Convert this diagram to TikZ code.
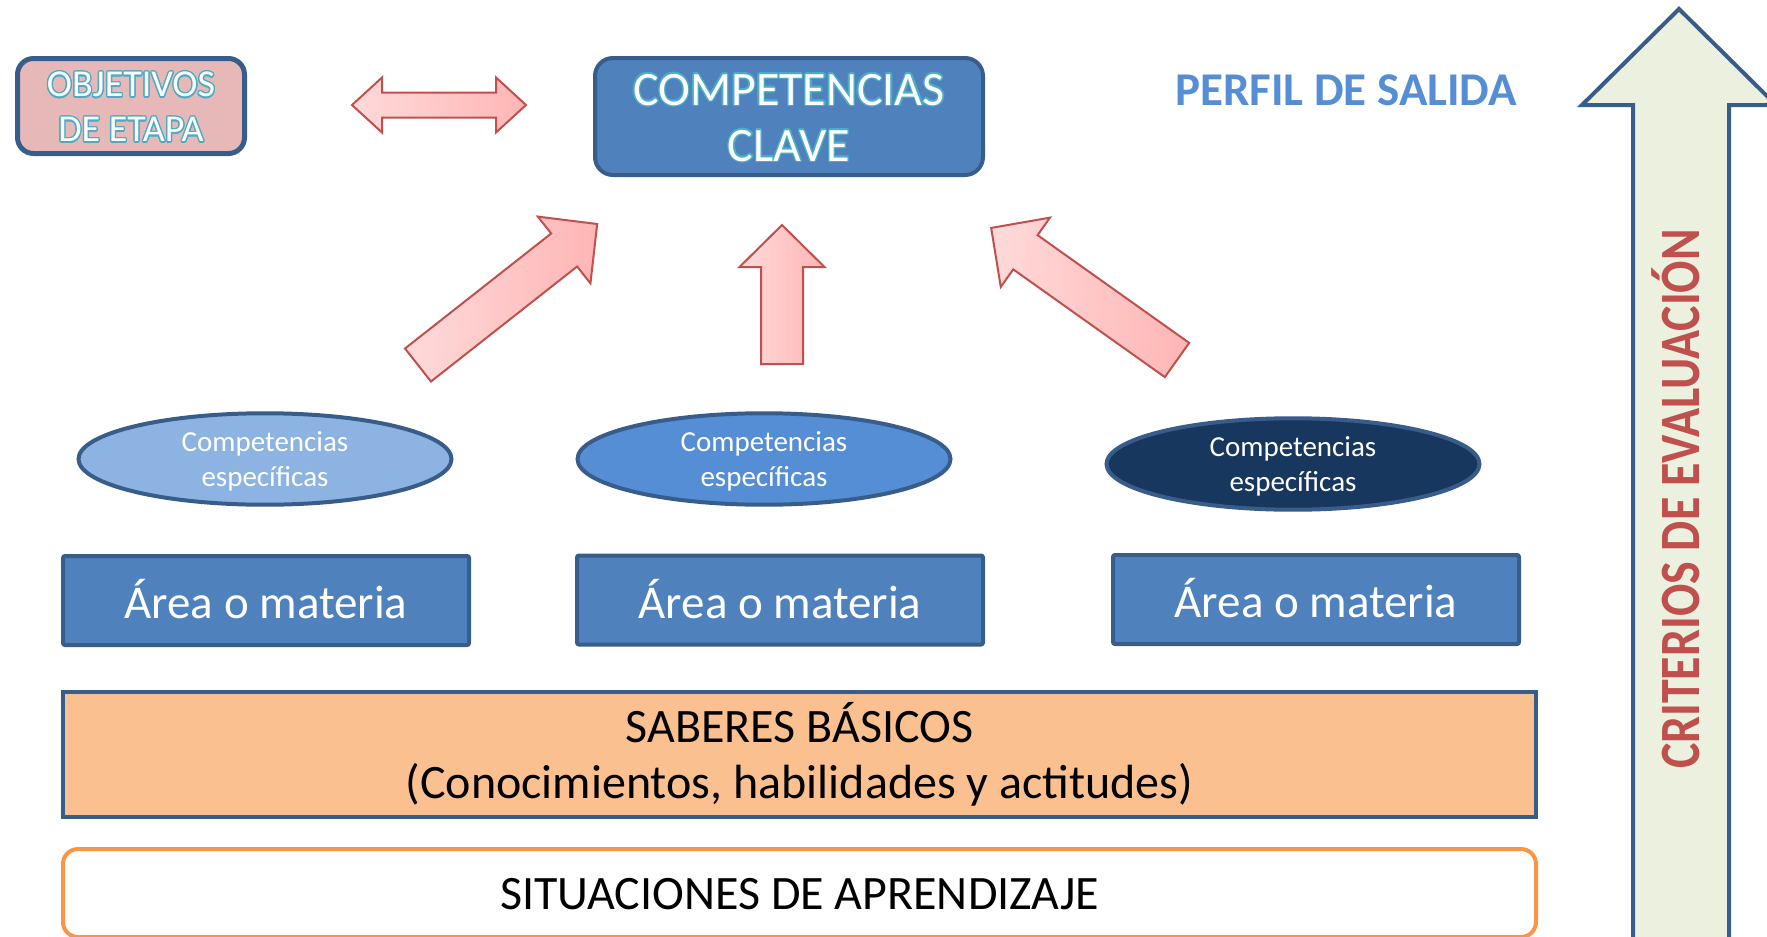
\documentclass[tikz,border=0pt]{standalone}
\usepackage{fontspec}
\setmainfont{Carlito}
\usepackage{contour}
\usetikzlibrary{shapes.geometric}
\definecolor{boxblue}{HTML}{4F81BD}
\definecolor{bordblue}{HTML}{385D8A}
\definecolor{objpink}{HTML}{E6B9B8}
\definecolor{glowteal}{HTML}{4BACC6}
\definecolor{perfilblue}{HTML}{558ED5}
\definecolor{ellA}{HTML}{8DB3E2}
\definecolor{ellB}{HTML}{558ED5}
\definecolor{ellC}{HTML}{17375E}
\definecolor{sabfill}{HTML}{FAC090}
\definecolor{sitorange}{HTML}{F79646}
\definecolor{critgreen}{HTML}{EBF1DE}
\definecolor{critred}{HTML}{C0504D}
\definecolor{pinkL}{HTML}{FFDADA}
\definecolor{pinkR}{HTML}{FFB5B5}
\definecolor{pinkborder}{HTML}{C0504D}
\contourlength{1.3pt}
\begin{document}
\begin{tikzpicture}[x=1pt,y=-1pt,
  objbox/.style={draw=bordblue, line width=5pt, fill=objpink, rounded corners=16pt,
    minimum width=227pt, minimum height=95pt, align=center, text=white, inner sep=0pt,
    font=\fontsize{38}{45}\selectfont},
  cbox/.style={draw=bordblue, line width=4pt, fill=boxblue, rounded corners=18pt,
    minimum width=388pt, minimum height=117pt, align=center, text=white, inner sep=0pt,
    font=\fontsize{48}{56}\selectfont},
  ell/.style={ellipse, draw=bordblue, line width=4pt, text=white, minimum width=373pt,
    minimum height=90pt, inner sep=0pt, align=center, font=\fontsize{29}{35}\selectfont},
  areabox/.style={draw=bordblue, line width=4pt, fill=boxblue, rounded corners=2pt,
    minimum width=406pt, minimum height=89pt, text=white, inner sep=0pt,
    font=\fontsize{47}{56}\selectfont, text height=36pt, text depth=0pt},
  sabbox/.style={draw=bordblue, line width=4pt, fill=sabfill, minimum width=1473pt,
    minimum height=125pt, align=center, inner sep=0pt, font=\fontsize{48}{56}\selectfont},
  sitbox/.style={draw=sitorange, line width=4pt, fill=white, rounded corners=15pt,
    minimum width=1473pt, minimum height=88pt, inner sep=0pt,
    font=\fontsize{48}{56}\selectfont, text height=32pt, text depth=0pt},
  pinkarrow/.style={draw=pinkborder, line width=2pt, left color=pinkL, right color=pinkR, line join=miter},
]
\clip (0,0) rectangle (1767,937);

% big vertical arrow
\draw[draw=bordblue, line width=4pt, fill=critgreen, line join=miter]
  (1633,945) -- (1633,105) -- (1582,105) -- (1679,9) -- (1776,105) -- (1729,105) -- (1729,945) -- cycle;
\node[rotate=90, text=critred, font=\bfseries\fontsize{57}{60}\selectfont, inner sep=0pt,
  text height=36pt, text depth=0pt] (crit) at (1681,499) {\scalebox{0.84}[1]{CRITERIOS DE EVALUACIÓN}};

% top row
\node[objbox] (obj) at (131,106) {\rule{0pt}{28pt}\contour{glowteal}{OBJETIVOS}\\\contour{glowteal}{DE ETAPA}};
\node[cbox] (cc) at (789,116.5) {\rule{0pt}{35pt}\contour{glowteal}{COMPETENCIAS}\\\contour{glowteal}{CLAVE}};
\node[font=\bfseries\fontsize{47}{56}\selectfont, text=perfilblue, text height=30pt,
  text depth=0pt, inner sep=0pt] (perfil) at (1346,90) {PERFIL DE SALIDA};

% double arrow
\draw[pinkarrow] (352,105) -- (382,77.5) -- (382,92.5) -- (496,92.5) -- (496,77.5) -- (526,105)
  -- (496,132.5) -- (496,117.5) -- (382,117.5) -- (382,132.5) -- cycle;

% up arrows
\begin{scope}[shift={(418,365)}, rotate=38.2]
  \draw[pinkarrow] (0,-21) -- (186,-21) -- (186,-42.5) -- (228,0) -- (186,42.5) -- (186,21) -- (0,21) -- cycle;
\end{scope}
\begin{scope}[shift={(782,364)}, rotate=90]
  \draw[pinkarrow] (0,-21) -- (97,-21) -- (97,-42.5) -- (139,0) -- (97,42.5) -- (97,21) -- (0,21) -- cycle;
\end{scope}
\begin{scope}[shift={(1177,360)}, rotate=144.6]
  \draw[pinkarrow] (0,-21) -- (186,-21) -- (186,-42.5) -- (228,0) -- (186,42.5) -- (186,21) -- (0,21) -- cycle;
\end{scope}

% ellipses
\node[ell, fill=ellA] (e1) at (265,459) {\rule{0pt}{25pt}Competencias\\específicas};
\node[ell, fill=ellB] (e2) at (764,459) {\rule{0pt}{25pt}Competencias\\específicas};
\node[ell, fill=ellC] (e3) at (1293,464) {\rule{0pt}{25pt}Competencias\\específicas};

% area boxes
\node[areabox] (a1) at (266,600.5) {Área o materia};
\node[areabox] (a2) at (780,600) {Área o materia};
\node[areabox] (a3) at (1316,599.5) {Área o materia};

% bottom bars
\node[sabbox] (sab) at (799.5,754.5) {SABERES BÁSICOS\\(Conocimientos, habilidades y actitudes)};
\node[sitbox] (sit) at (799.5,893) {SITUACIONES DE APRENDIZAJE};
\end{tikzpicture}
\end{document}
